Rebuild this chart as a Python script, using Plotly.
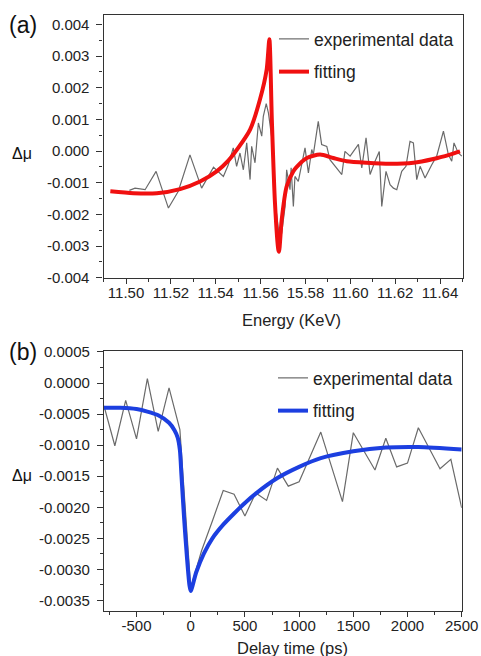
import plotly.graph_objects as go

# ---------------- data (a) ----------------
energy_exp = [11.5015, 11.5040, 11.5085, 11.5134, 11.5189, 11.5233, 11.5285, 11.5337, 11.5390, 11.5434,
              11.5456, 11.5478, 11.5493, 11.5508, 11.5523, 11.5538, 11.5553, 11.5560, 11.5575, 11.5590,
              11.5605, 11.5612, 11.5625, 11.5635, 11.5650, 11.5668, 11.5685, 11.5694, 11.5709, 11.5716,
              11.5731, 11.5736, 11.5746, 11.5753, 11.5768, 11.5798, 11.5813, 11.5828, 11.5835, 11.5857,
              11.5872, 11.5895, 11.5909, 11.5932, 11.5962, 11.5976, 11.5999, 11.6036, 11.6051, 11.6070,
              11.6088, 11.6110, 11.6129, 11.6140, 11.6159, 11.6177, 11.6192, 11.6207, 11.6229, 11.6248,
              11.6266, 11.6281, 11.6296, 11.6311, 11.6333, 11.6363, 11.6385, 11.6415, 11.6437, 11.6452,
              11.6462, 11.6481, 11.6497]
dmu_exp_a = [-0.00124, -0.00117, -0.00122, -0.00064, -0.00180, -0.00127, -0.00012, -0.00117, -0.00051, -0.00080,
             -0.00043, 0.00010, -0.00048, -0.00006, -0.00059, 0.00026, -0.00090, 0.00015, -0.00037, 0.00089,
             0.00047, 0.00110, 0.00150, 0.00120, 0.00040, -0.00180, -0.00280, -0.00259, -0.00175, -0.00059,
             -0.00122, -0.00053, -0.00175, -0.00080, -0.00096, 0.00010, -0.00069, 0.00005, -0.00011, 0.00094,
             0.00021, 0.00015, -0.00027, -0.00048, -0.00074, -0.00001, -0.00016, 0.00021, -0.00053, 0.00042,
             -0.00074, -0.00032, -0.00001, -0.00175, -0.00064, -0.00106, -0.00117, -0.00122, -0.00064, -0.00048,
             0.00031, 0.00026, -0.00090, -0.00048, -0.00085, -0.00043, -0.00016, 0.00063, -0.00011, -0.00032,
             0.00026, -0.00006, -0.00016]

energy_fit = [11.4930, 11.5033, 11.5137, 11.5241, 11.5330, 11.5404, 11.5456, 11.5500, 11.5553, 11.5597,
              11.5627, 11.5639, 11.5650, 11.5664, 11.5679, 11.5682, 11.5694, 11.5716, 11.5746, 11.5761,
              11.5806, 11.5865, 11.5924, 11.5984, 11.6073, 11.6177, 11.6281, 11.6370, 11.6444, 11.6489]
dmu_fit_a = [-0.00127, -0.00133, -0.00133, -0.00120, -0.00096, -0.00064, -0.00030, 0.00010, 0.00068, 0.00163,
             0.00258, 0.00353, 0.00100, -0.00164, -0.00312, -0.00318, -0.00217, -0.00112, -0.00064, -0.00050,
             -0.00022, -0.00011, -0.00022, -0.00032, -0.00037, -0.00040, -0.00037, -0.00025, -0.00011, -0.00001]

# ---------------- data (b) ----------------
delay_exp = [-800, -700, -600, -500, -400, -300, -200, -100, 0, 100, 200, 300, 400, 500, 600, 700, 800,
             900, 1000, 1100, 1200, 1300, 1400, 1500, 1600, 1700, 1800, 1900, 2000, 2100, 2200, 2300, 2400, 2500]
dmu_exp_b = [-0.00037, -0.00101, -0.00028, -0.00090, 0.00007, -0.00078, -0.00008, -0.00075, -0.00330,
             -0.00270, -0.00222, -0.00173, -0.00179, -0.00214, -0.00177, -0.00189, -0.00137,
             -0.00166, -0.00159, -0.00120, -0.00079, -0.00135, -0.00191, -0.00080, -0.00110, -0.00140,
             -0.00089, -0.00135, -0.00129, -0.00072, -0.00105, -0.00138, -0.00123, -0.00201]

delay_fit = [-800, -650, -500, -400, -300, -200, -150, -120, -100, -85, -60, -35, -12, 0,
             50, 120, 200, 300, 400, 500, 600, 800, 1000, 1200, 1500, 1800, 2100, 2500]
dmu_fit_b = [-0.00040, -0.00040, -0.00042, -0.00046, -0.00052, -0.00064, -0.00076, -0.00088, -0.00108, -0.00150,
             -0.00220, -0.00280, -0.00325, -0.00335,
             -0.00305, -0.00275, -0.00250, -0.00228, -0.00210, -0.00193, -0.00178, -0.00153, -0.00135,
             -0.00121, -0.00110, -0.00104, -0.00103, -0.00107]

# ticks
xa_ticks = [11.50, 11.52, 11.54, 11.56, 11.58, 11.60, 11.62, 11.64]
xa_labels = ["11.50", "11.52", "11.54", "11.56", "15.58", "11.60", "11.62", "11.64"]
ya_ticks = [-0.004, -0.003, -0.002, -0.001, 0.0, 0.001, 0.002, 0.003, 0.004]
ya_labels = ["-0.004", "-0.003", "-0.002", "-0.001", "0.000", "0.001", "0.002", "0.003", "0.004"]
xb_ticks = [-500, 0, 500, 1000, 1500, 2000, 2500]
xb_labels = ["-500", "0", "500", "1000", "1500", "2000", "2500"]
yb_ticks = [-0.0035, -0.0030, -0.0025, -0.0020, -0.0015, -0.0010, -0.0005, 0.0, 0.0005]
yb_labels = ["-0.0035", "-0.0030", "-0.0025", "-0.0020", "-0.0015", "-0.0010", "-0.0005", "0.0000", "0.0005"]

W, H = 481, 656
FONT = "Liberation Sans, Arial, sans-serif"
GRAY = "#6a6a6a"
RED = "#f01010"
BLUE = "#1c3fe0"
AX = "#333333"

fig = go.Figure()
fig.add_trace(go.Scatter(x=energy_exp, y=dmu_exp_a, mode="lines", name="experimental data",
                         line=dict(color=GRAY, width=1.2), xaxis="x", yaxis="y",
                         legend="legend", legendgroup="a1"))
fig.add_trace(go.Scatter(x=energy_fit, y=dmu_fit_a, mode="lines", name="fitting",
                         line=dict(color=RED, width=4, shape="spline", smoothing=0.7),
                         xaxis="x", yaxis="y", legend="legend", legendgroup="a2"))
fig.add_trace(go.Scatter(x=delay_exp, y=dmu_exp_b, mode="lines", name="experimental data",
                         line=dict(color=GRAY, width=1.2), xaxis="x2", yaxis="y2",
                         legend="legend2", legendgroup="b1"))
fig.add_trace(go.Scatter(x=delay_fit, y=dmu_fit_b, mode="lines", name="fitting",
                         line=dict(color=BLUE, width=4, shape="spline", smoothing=0.7),
                         xaxis="x2", yaxis="y2", legend="legend2", legendgroup="b2"))


def axis(domain, rng, tv, tt, minor_dtick, anchor, is_x):
    return dict(domain=domain, range=rng, tickmode="array", tickvals=tv, ticktext=tt,
                ticks="outside", ticklen=5 if is_x else 6, tickwidth=1.3, tickcolor=AX,
                showline=True, linecolor=AX, linewidth=1.3, mirror=True,
                showgrid=False, zeroline=False, anchor=anchor, automargin=False,
                ticklabelstandoff=-4 if is_x else 4,
                tickfont=dict(family=FONT, size=15, color="#222"),
                minor=dict(dtick=minor_dtick, tick0=0, ticks="outside", ticklen=3,
                           tickwidth=1.2, tickcolor=AX, showgrid=False))

fig.update_layout(
    width=W, height=H, margin=dict(l=0, r=0, t=0, b=0),
    paper_bgcolor="white", plot_bgcolor="white",
    xaxis=axis([103.6 / W, 462.5 / W], [11.49, 11.65], xa_ticks, xa_labels, 0.01, "y", True),
    yaxis=axis([1 - 277.7 / H, 1 - 15 / H], [-0.004, 0.0043], ya_ticks, ya_labels, 0.0005, "x", False),
    xaxis2=axis([104 / W, 461.7 / W], [-800, 2500], xb_ticks, xb_labels, 250, "y2", True),
    yaxis2=axis([1 - 611 / H, 1 - 350.7 / H], [-0.00367, 0.00052], yb_ticks, yb_labels, 0.00025, "x2", False),
    legend=dict(x=274 / W, y=1 - 21 / H, xanchor="left", yanchor="top",
                font=dict(family=FONT, size=17.5, color="#222"), bgcolor="rgba(0,0,0,0)",
                tracegroupgap=7, itemwidth=30),
    legend2=dict(x=273 / W, y=1 - 360 / H, xanchor="left", yanchor="top",
                 font=dict(family=FONT, size=17.5, color="#222"), bgcolor="rgba(0,0,0,0)",
                 tracegroupgap=7, itemwidth=30),
    showlegend=True,
)

labels = [
    ("(a)", 23, 25, 23, "#111"),
    ("(b)", 23, 352, 23, "#111"),
    ("Δμ", 22, 153, 16, "#111"),
    ("Δμ", 22, 475, 16, "#111"),
    ("Energy (KeV)", 291, 320, 16.5, "#222"),
    ("Delay time (ps)", 292, 648, 16.5, "#222"),
]
for txt, xx, yy, fs, col in labels:
    fig.add_annotation(text=txt, x=xx / W, y=1 - yy / H, xref="paper", yref="paper",
                       xanchor="center", yanchor="middle", showarrow=False,
                       font=dict(family=FONT, size=fs, color=col))

fig.write_html("out.html", config={"displayModeBar": False},
               post_script="document.body.style.margin='0';document.body.style.overflow='hidden';")
